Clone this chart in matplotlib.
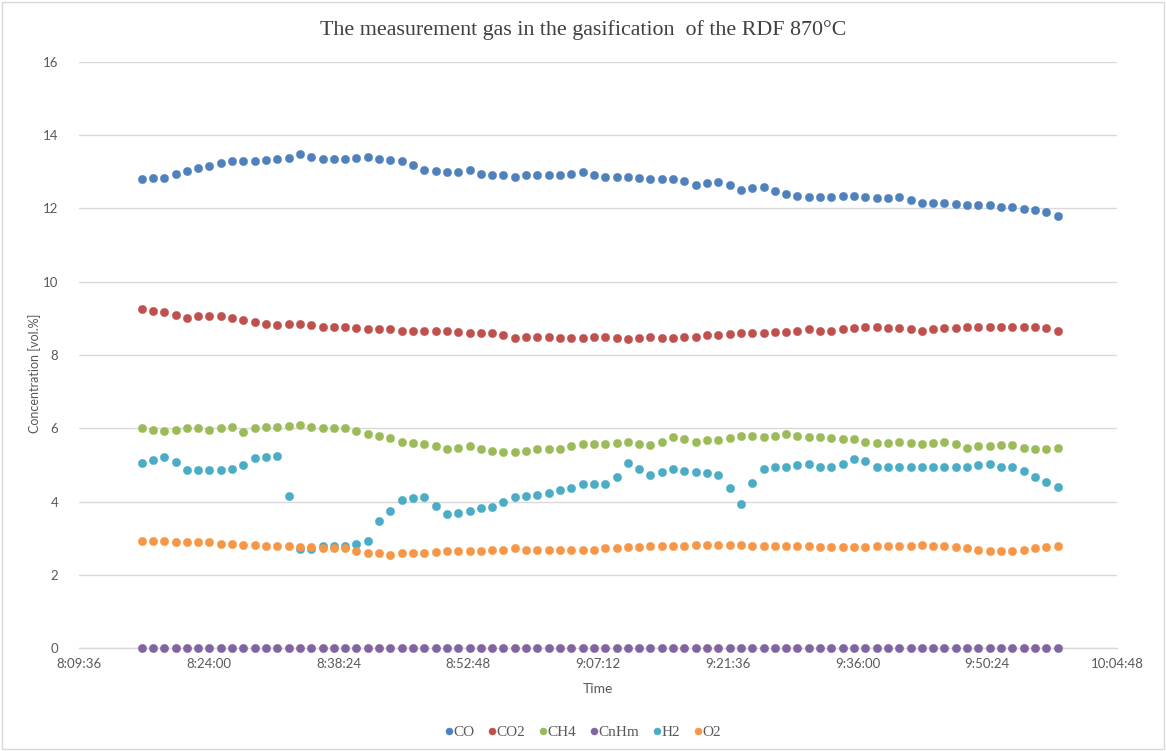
import matplotlib
matplotlib.use("Agg")
import matplotlib.pyplot as plt
from matplotlib.ticker import FuncFormatter, MultipleLocator
from matplotlib.patches import Rectangle
import numpy as np

# ---- data ----
start_time_s = 8 * 3600 + 16 * 60 + 33   # first sample (s since midnight)
sample_step_s = 75.3                      # sampling interval (s)

co = [12.80, 12.84, 12.84, 12.94, 13.03, 13.09, 13.16, 13.23, 13.29, 13.29, 13.29, 13.32, 13.35, 13.38,
      13.48, 13.39, 13.35, 13.35, 13.35, 13.38, 13.39, 13.35, 13.32, 13.29, 13.19, 13.06, 13.03, 13.00, 13.00,
      13.05, 12.95, 12.90, 12.90, 12.86, 12.90, 12.90, 12.90, 12.90, 12.95, 12.98, 12.90, 12.86, 12.86,
      12.86, 12.84, 12.80, 12.80, 12.80, 12.74, 12.65, 12.68, 12.71, 12.65, 12.51, 12.55, 12.58, 12.48,
      12.39, 12.35, 12.32, 12.32, 12.32, 12.35, 12.35, 12.32, 12.29, 12.29, 12.32, 12.23, 12.15, 12.15,
      12.15, 12.12, 12.09, 12.09, 12.09, 12.05, 12.03, 11.99, 11.96, 11.90, 11.80]
co2 = [9.25, 9.21, 9.17, 9.08, 9.02, 9.06, 9.06, 9.06, 9.02, 8.95, 8.89, 8.85, 8.83, 8.85, 8.85, 8.83,
       8.76, 8.76, 8.76, 8.73, 8.70, 8.70, 8.70, 8.66, 8.66, 8.66, 8.66, 8.66, 8.64,
       8.60, 8.60, 8.60, 8.54, 8.47, 8.50, 8.50, 8.50, 8.47, 8.47, 8.47, 8.50, 8.50, 8.47, 8.44, 8.47,
       8.50, 8.47, 8.47, 8.50, 8.50, 8.54, 8.54, 8.57, 8.60, 8.60, 8.60, 8.64,
       8.63, 8.66, 8.70, 8.66, 8.66, 8.70, 8.73, 8.76, 8.76, 8.73, 8.73, 8.70, 8.66, 8.70, 8.73, 8.73,
       8.76, 8.76, 8.76, 8.76, 8.76, 8.76, 8.76, 8.73, 8.66]
ch4 = [6.00, 5.96, 5.93, 5.96, 6.00, 6.00, 5.96, 6.00, 6.04, 5.90, 6.00, 6.04, 6.04, 6.07, 6.10, 6.04,
       6.00, 6.00, 6.00, 5.93, 5.86, 5.80, 5.74, 5.64, 5.61, 5.57, 5.51, 5.45, 5.47,
       5.51, 5.45, 5.38, 5.35, 5.35, 5.38, 5.45, 5.45, 5.45, 5.51, 5.57, 5.57, 5.57, 5.61, 5.64, 5.57,
       5.54, 5.64, 5.77, 5.70, 5.64, 5.67, 5.67, 5.74, 5.80, 5.80, 5.77, 5.80,
       5.86, 5.80, 5.77, 5.77, 5.74, 5.70, 5.70, 5.64, 5.61, 5.61, 5.64, 5.61, 5.57, 5.61, 5.64, 5.57,
       5.47, 5.51, 5.51, 5.54, 5.54, 5.47, 5.45, 5.45, 5.47]
cnhm = [0.0] * 82
h2 = [5.05, 5.15, 5.22, 5.09, 4.86, 4.86, 4.86, 4.86, 4.89, 4.99, 5.19, 5.22, 5.25, 4.15, 2.72, 2.72,
      2.78, 2.78, 2.78, 2.85, 2.92, 3.47, 3.74, 4.05, 4.09, 4.12, 3.89, 3.67, 3.70,
      3.74, 3.83, 3.86, 3.99, 4.13, 4.15, 4.19, 4.25, 4.32, 4.38, 4.48, 4.48, 4.48, 4.67, 5.06, 4.90,
      4.74, 4.81, 4.90, 4.84, 4.81, 4.77, 4.74, 4.38, 3.95, 4.52, 4.90, 4.94,
      4.96, 5.00, 5.04, 4.96, 4.94, 5.04, 5.16, 5.10, 4.96, 4.96, 4.96, 4.96, 4.96, 4.96, 4.96, 4.96,
      4.96, 5.00, 5.04, 4.96, 4.94, 4.84, 4.67, 4.55, 4.41]
o2 = [2.94, 2.94, 2.94, 2.89, 2.89, 2.89, 2.89, 2.85, 2.85, 2.83, 2.83, 2.79, 2.79, 2.79, 2.76, 2.76,
      2.73, 2.73, 2.73, 2.66, 2.60, 2.60, 2.56, 2.60, 2.60, 2.60, 2.63, 2.66, 2.66,
      2.66, 2.66, 2.69, 2.69, 2.73, 2.69, 2.69, 2.69, 2.69, 2.69, 2.69, 2.69, 2.73, 2.73, 2.76, 2.76,
      2.79, 2.79, 2.79, 2.79, 2.83, 2.83, 2.83, 2.83, 2.83, 2.79, 2.79, 2.79,
      2.79, 2.79, 2.79, 2.76, 2.76, 2.76, 2.76, 2.76, 2.79, 2.79, 2.79, 2.79, 2.83, 2.79, 2.79, 2.76,
      2.73, 2.69, 2.66, 2.66, 2.66, 2.69, 2.73, 2.76, 2.79]

series_names = ["CO", "CO2", "CH4", "CnHm", "H2", "O2"]
series_values = [co, co2, ch4, cnhm, h2, o2]
series_colors = ["#4F81BD", "#C0504D", "#9BBB59", "#8064A2", "#4BACC6", "#F79646"]

x_min_s = 8 * 3600 + 9 * 60 + 36
x_max_s = 10 * 3600 + 4 * 60 + 48
x_step_s = 14 * 60 + 24

times = start_time_s + sample_step_s * np.arange(len(co))

# ---- figure ----
W, H = 1166, 751
fig = plt.figure(figsize=(W / 100, H / 100), dpi=100)
ax = fig.add_axes([79 / W, 1 - 648.4 / H, (1117 - 79) / W, (648.4 - 61.7) / H])

for name, vals, col in zip(series_names, series_values, series_colors):
    ax.plot(times, vals, linestyle="none", marker="o", markersize=6.0,
            markerfacecolor=col, markeredgecolor=col, markeredgewidth=0.3,
            label=name, clip_on=False, zorder=3)

ax.set_xlim(x_min_s, x_max_s)
ax.set_ylim(0, 16)
ax.xaxis.set_major_locator(MultipleLocator(x_step_s))
ax.yaxis.set_major_locator(MultipleLocator(2))


def fmt_time(v, pos):
    v = int(round(v))
    return f"{v // 3600}:{(v % 3600) // 60:02d}:{v % 60:02d}"


ax.xaxis.set_major_formatter(FuncFormatter(fmt_time))

ax.grid(axis="y", color="#D9D9D9", linewidth=1.0)
ax.set_axisbelow(True)
for s in ["top", "right", "left"]:
    ax.spines[s].set_visible(False)
ax.spines["bottom"].set_color("#D9D9D9")
ax.spines["bottom"].set_linewidth(1.0)
ax.tick_params(axis="both", length=0, colors="#595959", labelsize=9.5)
ax.tick_params(axis="x", pad=7)
ax.tick_params(axis="y", pad=15)
for lab in ax.get_xticklabels() + ax.get_yticklabels():
    lab.set_fontfamily("Lato")

ax.set_xlabel("Time", fontsize=10, color="#595959", family="Lato", labelpad=9)
ax.set_ylabel("Concentration [vol.%]", fontsize=9, color="#595959", family="Lato")
ax.yaxis.set_label_coords((41 - 79) / (1117 - 79), (648.4 - 373) / (648.4 - 61.7))

fig.text(0.5, 1 - 30 / H, "The measurement gas in the gasification  of the RDF 870°C",
         ha="center", va="center", fontsize=15.8, family="Liberation Serif", color="#404040")

leg = fig.legend(loc="center", bbox_to_anchor=(0.5, 1 - 732 / H), ncol=6, frameon=False,
                 handlelength=0.5, handletextpad=0.05, columnspacing=0.9,
                 prop={"family": "Liberation Serif", "size": 11}, markerscale=0.85)
for t in leg.get_texts():
    t.set_color("#595959")

fig.patches.append(Rectangle((2 / W, 2 / H), (W - 4) / W, (H - 4) / H, transform=fig.transFigure,
                             fill=False, edgecolor="#D9D9D9", linewidth=1.0))

fig.savefig("out.png", dpi=100, facecolor="white")
